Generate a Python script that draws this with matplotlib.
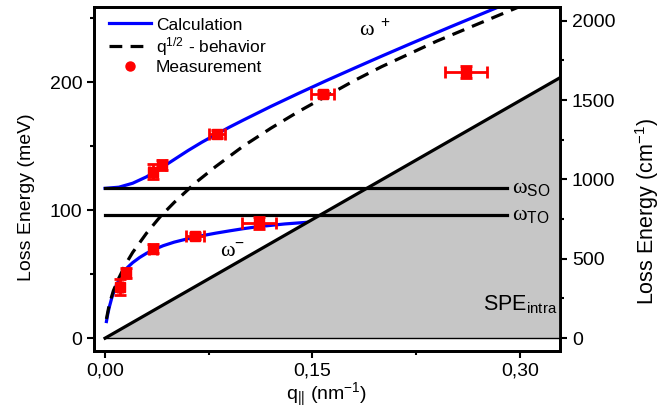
import matplotlib
matplotlib.use("Agg")
import matplotlib.pyplot as plt
from matplotlib.lines import Line2D
from matplotlib.ticker import FixedLocator, FuncFormatter

plt.rcParams['font.family'] = ['Liberation Sans', 'DejaVu Sans']
plt.rcParams['mathtext.fontset'] = 'custom'
plt.rcParams['mathtext.rm'] = 'Liberation Sans'
plt.rcParams['mathtext.it'] = 'Liberation Sans:italic'
plt.rcParams['mathtext.bf'] = 'Liberation Sans:bold'

# calculated plasmon-phonon branches (q in nm^-1, E in meV)
q_plus = [0, 0.01, 0.02, 0.03, 0.04, 0.05, 0.06, 0.07, 0.08, 0.09, 0.10, 0.12, 0.14, 0.16,
          0.18, 0.20, 0.22, 0.25, 0.28, 0.31, 0.33]
E_plus = [117, 117.9, 121, 126, 132.5, 139.5, 146.5, 153, 159, 164.8, 170.3, 181,
          191.2, 201.1, 210.7, 220.2, 229.5, 243.2, 256.6, 269.9, 278.7]
q_minus = [0.001, 0.002, 0.003, 0.005, 0.008, 0.012, 0.016, 0.02, 0.025, 0.03, 0.035, 0.042,
           0.05, 0.06, 0.07, 0.08, 0.09, 0.10, 0.11, 0.13, 0.15, 0.2, 0.26, 0.33]
E_minus = [13, 19, 24, 32, 41, 49.5, 55, 59, 63, 66.3, 69, 72.2, 75, 77.7, 80, 82, 83.8,
           85.5, 87, 89.2, 90.8, 93, 94.5, 95.5]

# q^1/2 behaviour
q_sqrt = [0.001, 0.003, 0.006, 0.01, 0.015, 0.02, 0.03, 0.04, 0.05, 0.065, 0.08, 0.1, 0.12,
          0.14, 0.16, 0.18, 0.2, 0.22, 0.24, 0.26, 0.28, 0.30, 0.32]
E_sqrt = [15, 26, 37, 47, 58, 67, 82, 95, 106, 121, 134, 150, 164, 177, 189, 201, 212, 222,
          232, 241, 250, 259, 268]

# measured points
q_meas = [0.0108, 0.0152, 0.0347, 0.065, 0.1113, 0.0347, 0.041, 0.081, 0.1575, 0.261]
E_meas = [40, 50.8, 70, 80, 90, 130, 135, 159.5, 190.5, 207.5]
q_err = [0.0015, 0.0015, 0.003, 0.0065, 0.0123, 0.003, 0.003, 0.006, 0.0083, 0.0152]
E_err = [6, 4, 3.5, 2.5, 4.7, 6, 4, 3, 2.5, 4.7]

# phonon energies and single particle excitation edge
E_SO = 117
E_TO = 96
q_lines = [0, 0.291]
q_spe = [0, 0.33]
E_spe = [0, 204]

x_ticks = [0, 0.15, 0.30]
x_minor = [0.075, 0.225]
y_ticks = [0, 100, 200]
y_minor = [50, 150, 250]
cm_ticks = [0, 500, 1000, 1500, 2000]
cm_minor = [250, 750, 1250, 1750]
meV_to_cm = 8.0655

fig = plt.figure(figsize=(6.68, 4.19), dpi=100)
ax = fig.add_axes([0.1407, 0.1623, 0.6976, 0.821])

ax.plot(q_plus, E_plus, color='#0000ff', lw=2.3, zorder=2)
ax.plot(q_minus, E_minus, color='#0000ff', lw=2.3, zorder=2)
ax.fill_between(q_spe, [0, 0], E_spe, color='#c6c6c6', lw=0, zorder=3)
ax.plot(q_spe, E_spe, color='k', lw=2.3, zorder=4)
ax.plot(q_spe, [0, 0], color='k', lw=1, zorder=4)
ax.plot(q_lines, [E_SO, E_SO], color='k', lw=2.3, zorder=4)
ax.plot(q_lines, [E_TO, E_TO], color='k', lw=2.3, zorder=4)
ax.plot(q_sqrt, E_sqrt, color='k', lw=2.3, dashes=(4, 2.6), zorder=5)
ax.errorbar(q_meas, E_meas, xerr=q_err, yerr=E_err, fmt='s', color='#ff0000',
            ms=7, elinewidth=2, capsize=4, capthick=2, zorder=6)

ax.set_xlim(-0.008, 0.329)
ax.set_ylim(-10, 258.6)

serif = ['Liberation Serif', 'DejaVu Serif']
ax.text(0.195, 236, 'ω$^{\\ +}$', family=serif, fontsize=16, ha='center', va='baseline')
ax.text(0.092, 64, 'ω$^{-}$', family=serif, fontsize=16, ha='center', va='baseline', color='k')
ax.text(0.294, 113, 'ω$_{\\mathrm{SO}}$', family=serif, fontsize=16, ha='left', va='baseline')
ax.text(0.294, 92, 'ω$_{\\mathrm{TO}}$', family=serif, fontsize=16, ha='left', va='baseline')
ax.text(0.273, 22, 'SPE$_{\\mathrm{intra}}$', fontsize=15.5, ha='left', va='baseline')

ax.xaxis.set_major_locator(FixedLocator(x_ticks))
ax.xaxis.set_minor_locator(FixedLocator(x_minor))
ax.xaxis.set_major_formatter(FuncFormatter(lambda v, p: ('%.2f' % v).replace('.', ',')))
ax.yaxis.set_major_locator(FixedLocator(y_ticks))
ax.yaxis.set_minor_locator(FixedLocator(y_minor))
ax.tick_params(which='major', direction='out', length=5, width=1.5, labelsize=14)
ax.tick_params(which='minor', direction='out', length=3, width=1.5)
ax.tick_params(top=False, right=False, which='both')
for s in ax.spines.values():
    s.set_linewidth(2)
ax.set_xlabel('q$_{||}$ (nm$^{-1}$)', fontsize=14, labelpad=1)
ax.set_ylabel('Loss Energy (meV)', fontsize=14)
ax.yaxis.set_label_coords(-0.127, 0.448)

ax2 = ax.twinx()
ax2.set_ylim(-10 * meV_to_cm, 258.6 * meV_to_cm)
ax2.yaxis.set_major_locator(FixedLocator(cm_ticks))
ax2.yaxis.set_minor_locator(FixedLocator(cm_minor))
ax2.tick_params(which='major', direction='out', length=5, width=1.5, labelsize=14)
ax2.tick_params(which='minor', direction='out', length=3, width=1.5)
for s in ax2.spines.values():
    s.set_linewidth(2)
ax2.set_ylabel('Loss Energy (cm$^{-1}$)', fontsize=15.5)
ax2.yaxis.set_label_coords(1.157, 0.405)

handles = [Line2D([], [], color='#0000ff', lw=2.3),
           Line2D([], [], color='k', lw=2.3, dashes=(4, 2.6)),
           Line2D([], [], color='#ff0000', marker='o', ls='none', ms=6.5)]
labels = ['Calculation', 'q$^{\\mathrm{1/2}}$ - behavior', 'Measurement']
ax.legend(handles, labels, loc='upper left', bbox_to_anchor=(0.01, 1.0), frameon=False,
          fontsize=12.5, handlelength=2.4, handletextpad=0.3, labelspacing=0.12,
          borderaxespad=0.2)

fig.savefig('out.png', dpi=100)
